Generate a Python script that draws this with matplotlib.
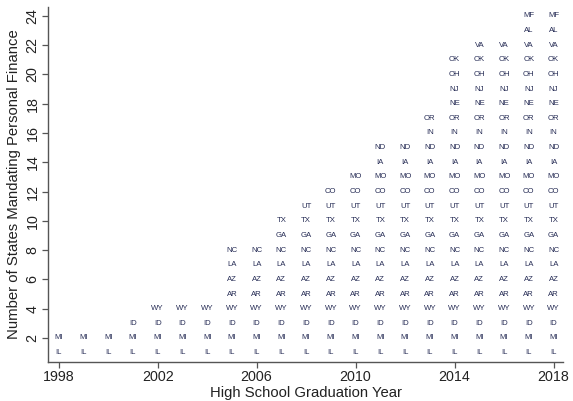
import matplotlib
matplotlib.use("Agg")
import matplotlib.pyplot as plt

plt.rcParams['font.family'] = ['Liberation Sans', 'DejaVu Sans']

# States in order of adoption (stack order, bottom to top)
states = ["IL", "MI", "ID", "WY", "AR", "AZ", "LA", "NC", "GA", "TX", "UT", "CO",
          "MO", "IA", "ND", "IN", "OR", "NE", "NJ", "OH", "OK", "VA", "AL", "MF"]
years = list(range(1998, 2019))
# Number of states mandating personal finance in each graduation year
counts = [2, 2, 2, 3, 4, 4, 4, 8, 8, 10, 11, 12, 13, 15, 15, 17, 21, 22, 22, 24, 24]

xticks = [1998, 2002, 2006, 2010, 2014, 2018]
yticks = list(range(2, 25, 2))

fig = plt.figure(figsize=(5.73, 4.01), dpi=100)
ax = fig.add_axes([48/573, 1 - 362/401, (563 - 48)/573, (362 - 7)/401])

text_color = "#262c55"
for yr, n in zip(years, counts):
    for i in range(n):
        ax.text(yr, i + 1, states[i], ha="center", va="center",
                fontsize=5.6, color=text_color)

ax.set_xlim(1997.57, 2018.38)
ax.set_ylim(0.36, 24.6)
ax.set_xticks(xticks)
ax.set_yticks(yticks)
ax.set_xticklabels([str(t) for t in xticks], fontsize=10.3, color="#222222")
ax.set_yticklabels([str(t) for t in yticks], fontsize=10.3, rotation=90, va="center",
                   color="#222222")

for s in ["top", "right"]:
    ax.spines[s].set_visible(False)
for s in ["left", "bottom"]:
    ax.spines[s].set_color("#555555")
    ax.spines[s].set_linewidth(1.0)
ax.tick_params(axis="both", direction="out", length=4, width=0.9, color="#555555",
               pad=2)

ax.set_xlabel("High School Graduation Year", fontsize=10.7, labelpad=1, color="#222222")
ax.set_ylabel("Number of States Mandating Personal Finance", fontsize=10.7, labelpad=3,
              color="#222222")

fig.savefig("out.png", dpi=100)
